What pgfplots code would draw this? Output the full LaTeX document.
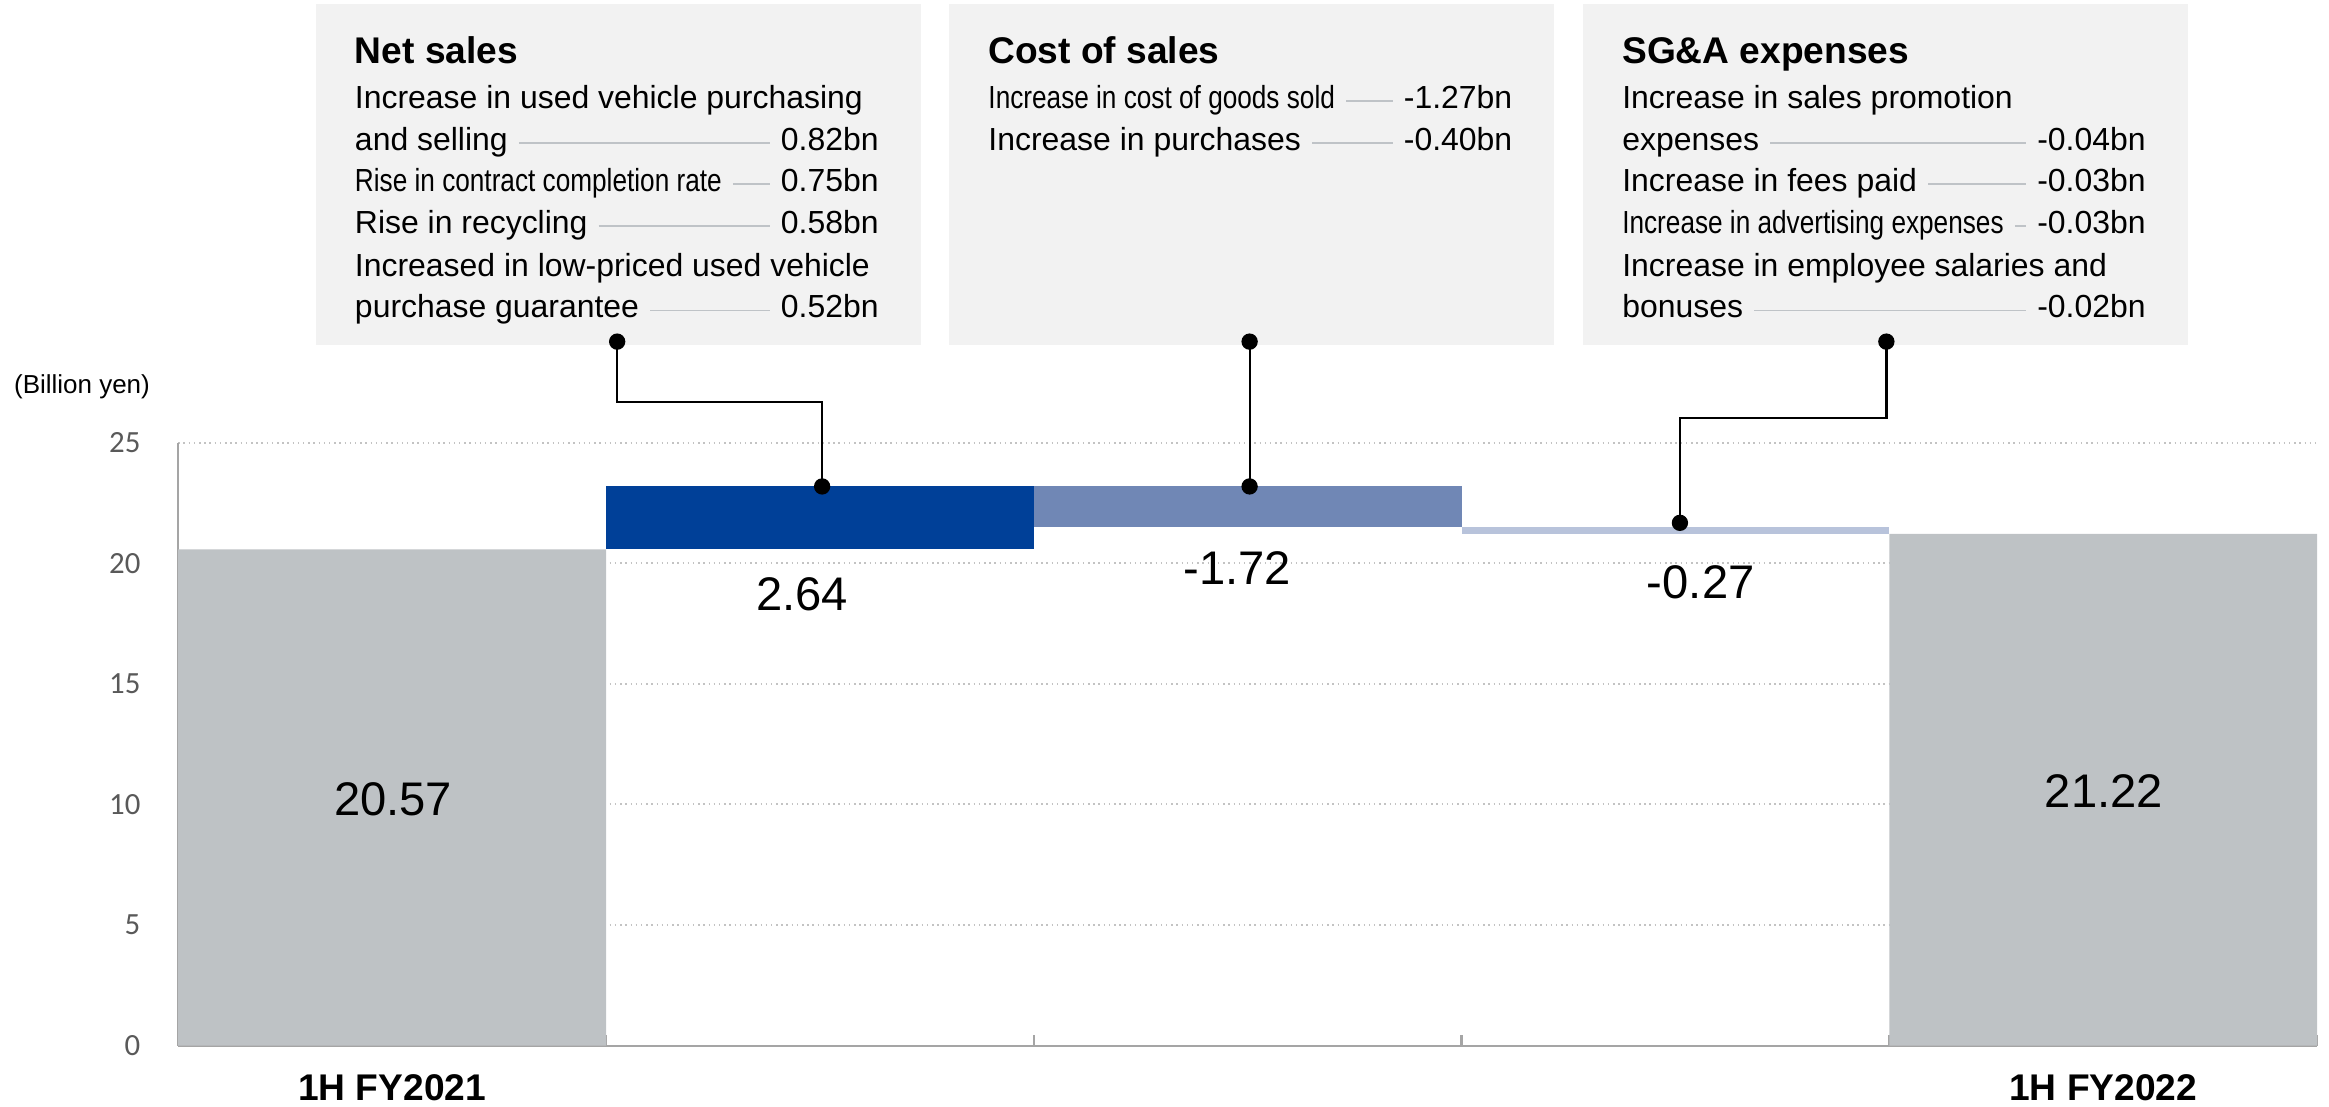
\documentclass[border=0pt]{standalone}
\usepackage{fontspec}
\setmainfont{Liberation Sans}
\newfontfamily\carlito{Carlito}
\usepackage{pgfplots}
\pgfplotsset{compat=1.18}
\usetikzlibrary{calc}

\definecolor{barGray}{RGB}{190,194,197}
\definecolor{netBlue}{RGB}{0,64,152}
\definecolor{costBlue}{RGB}{112,135,181}
\definecolor{sgaBlue}{RGB}{184,195,219}
\definecolor{boxFill}{RGB}{242,242,242}
\definecolor{leaderGray}{RGB}{191,195,199}
\definecolor{gridGray}{RGB}{195,195,195}
\definecolor{axisGray}{RGB}{165,165,165}
\definecolor{tickGray}{RGB}{89,89,89}

\newcommand{\body}{\fontsize{8.6pt}{10pt}\selectfont}
\newcommand{\head}{\fontsize{10pt}{12pt}\selectfont\bfseries}
\newcommand{\cond}[1]{\scalebox{0.82}[1]{#1}}

% box line with a leader: text x, value right x, baseline, text, value
\newcommand{\row}[5]{%
  \node[anchor=base west, inner sep=0pt, font=\body] (t) at (#1,#3) {#4};
  \node[anchor=base east, inner sep=0pt, font=\body] (v) at (#2,#3) {#5};
  \draw[leaderGray, line width=0.5pt] ($(t.base east)+(7,-5)$) -- ($(v.base west)+(-7,-5)$);
}
\newcommand{\txt}[3]{\node[anchor=base west, inner sep=0pt, font=\body] at (#1,#2) {#3};}

\begin{document}
\begin{tikzpicture}
\begin{scope}[x=0.4pt, y=-0.4pt]
  \useasboundingbox (0,0) rectangle (1568,745);
\end{scope}

\begin{axis}[
    at={(48pt,-281.6pt)}, anchor=south west,
    scale only axis, width=576pt, height=162.4pt,
    ybar stacked, bar width=1,
    xmin=-0.5, xmax=4.5, ymin=0, ymax=25,
    enlargelimits=false,
    axis x line*=bottom, axis y line*=left,
    axis line style={draw=axisGray, line width=0.6pt},
    xtick={0,4}, xticklabels={1H FY2021, 1H FY2022},
    x tick label style={font=\head, anchor=center, inner sep=0pt, yshift=-11.3pt},
    extra x ticks={0.5,1.5,2.5,3.5,4.5}, extra x tick labels={},
    extra x tick style={major tick length=2.9pt},
    major tick length=0pt,
    tick align=inside,
    x tick style={draw=axisGray, line width=0.6pt},
    ytick={0,5,...,25},
    y tick style={draw=none},
    y tick label style={font=\carlito\fontsize{8.3pt}{10pt}\selectfont, text=tickGray, anchor=east, inner sep=0pt, xshift=-10pt},
    /pgf/number format/assume math mode=true,
    ymajorgrids, grid style={gridGray, densely dotted, line width=0.55pt},
  ]
  % invisible base of the floating bars
  \addplot[draw=none, fill=none] coordinates {(0,0) (1,20.57) (2,21.49) (3,21.22) (4,0)};
  \addplot[draw=none, fill=barGray] coordinates {(0,20.57) (1,0) (2,0) (3,0) (4,21.22)};
  \addplot[draw=none, fill=netBlue] coordinates {(0,0) (1,2.64) (2,0) (3,0) (4,0)};
  \addplot[draw=none, fill=costBlue] coordinates {(0,0) (1,0) (2,1.72) (3,0) (4,0)};
  \addplot[draw=none, fill=sgaBlue] coordinates {(0,0) (1,0) (2,0) (3,0.27) (4,0)};
\end{axis}

\begin{scope}[x=0.4pt, y=-0.4pt]
  % unit label
  \node[anchor=base west, inner sep=0pt, font=\fontsize{7pt}{8pt}\selectfont] at (9,265) {(Billion yen)};

  % value labels
  \begin{scope}[every node/.style={inner sep=0pt, font=\fontsize{12.7pt}{14pt}\selectfont}]
    \node at (264.6,538) {20.57};
    \node at (540,400) {2.64};
    \node at (833,382.6) {-1.72};
    \node at (1145,391.7) {-0.27};
    \node at (1416.5,532.6) {21.22};
  \end{scope}

  % boxes
  \fill[boxFill] (212.6,2.7) rectangle (620,232);
  \fill[boxFill] (639,2.7) rectangle (1046,232);
  \fill[boxFill] (1066,2.7) rectangle (1472.8,232);

  % Net sales
  \node[anchor=base west, inner sep=0pt, font=\head] at (238.5,42.6) {Net sales};
  \txt{238.5}{73}{Increase in used vehicle purchasing}
  \row{238.5}{592}{101}{and selling}{0.82bn}
  \row{238.5}{592}{129}{\cond{Rise in contract completion rate}}{0.75bn}
  \row{238.5}{592}{157}{Rise in recycling}{0.58bn}
  \txt{238.5}{186}{Increased in low-priced used vehicle}
  \row{238.5}{592}{214}{purchase guarantee}{0.52bn}

  % Cost of sales
  \node[anchor=base west, inner sep=0pt, font=\head] at (665,42.6) {Cost of sales};
  \row{665}{1018.6}{73}{\cond{Increase in cost of goods sold}}{-1.27bn}
  \row{665}{1018.6}{101}{Increase in purchases}{-0.40bn}

  % SG&A
  \node[anchor=base west, inner sep=0pt, font=\head] at (1091.7,42.6) {SG\&A expenses};
  \txt{1091.7}{73}{Increase in sales promotion}
  \row{1091.7}{1445}{101}{expenses}{-0.04bn}
  \row{1091.7}{1445}{129}{Increase in fees paid}{-0.03bn}
  \row{1091.7}{1445}{157}{\cond{Increase in advertising expenses}}{-0.03bn}
  \txt{1091.7}{186}{Increase in employee salaries and}
  \row{1091.7}{1445}{214}{bonuses}{-0.02bn}

  % connectors
  \draw[line width=0.6pt] (415.5,230) -- (415.5,270.5) -- (553.5,270.5) -- (553.5,327.5);
  \fill (415.5,230) circle[radius=2.2pt];
  \fill (553.5,327.5) circle[radius=2.2pt];
  \draw[line width=0.6pt] (841.3,230) -- (841.3,327.5);
  \fill (841.3,230) circle[radius=2.2pt];
  \fill (841.3,327.5) circle[radius=2.2pt];
  \draw[line width=0.6pt] (1270,230) -- (1270,281.6) -- (1131,281.6) -- (1131,352);
  \fill (1270,230) circle[radius=2.2pt];
  \fill (1131,352) circle[radius=2.2pt];
\end{scope}
\end{tikzpicture}
\end{document}
